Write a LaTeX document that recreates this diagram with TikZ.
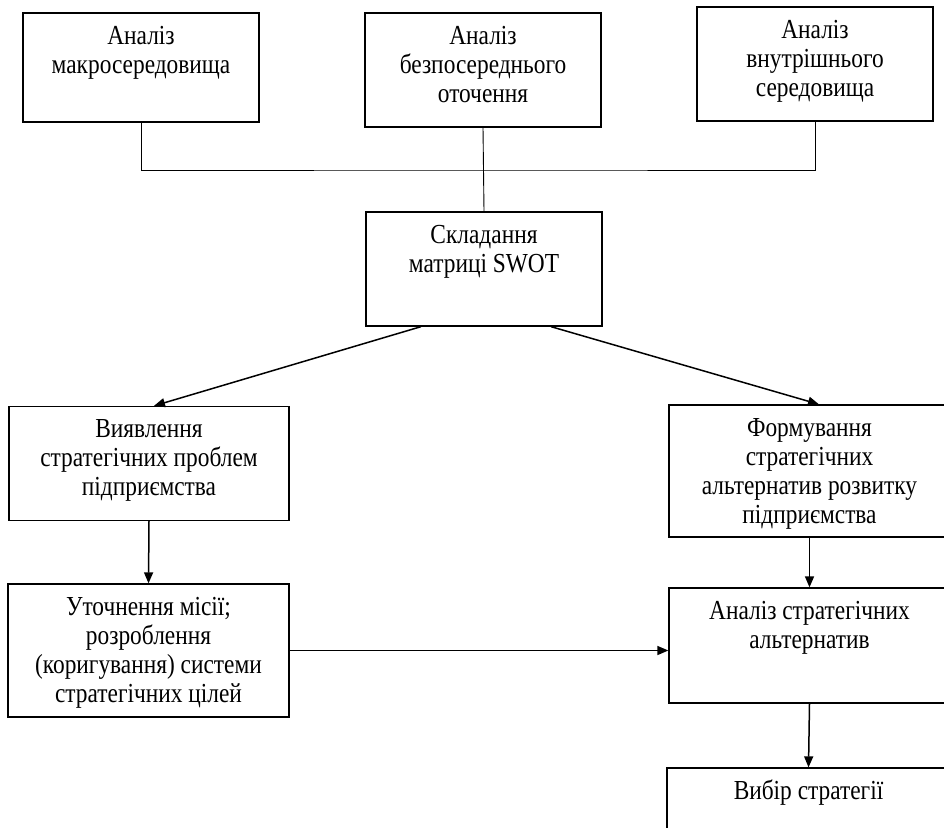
\documentclass[tikz,border=0pt]{standalone}
\usepackage{fontspec}
\setmainfont{Liberation Serif}[FakeStretch=0.85]
\usetikzlibrary{arrows.meta,calc}
\tikzset{>={Triangle[length=11pt,width=9pt]}}
\tikzset{blok/.style={draw,line width=1.3pt,inner sep=0pt,font=\fontsize{27.5pt}{29pt}\selectfont},
  shyna/.style={line width=0.9pt},
  strilka/.style={->,line width=1.5pt}}
% text at the top of a box: {height}{width}{text}
\newcommand{\blokTxt}[3]{\parbox[c][#1][t]{#2}{\centering\vspace*{11pt}\strut #3\par}}

\begin{document}
\begin{tikzpicture}[x=1pt,y=-1pt]
\useasboundingbox (0,0) rectangle (944,827);
\clip (0,0) rectangle (944,827);
\node[blok] (makro) at (141,67.5) {\blokTxt{109pt}{236pt}{Аналіз\\макросередовища}};
\node[blok] (bezpos) at (483,70) {\blokTxt{114pt}{236pt}{Аналіз\\безпосереднього\\оточення}};
\node[blok] (vnutr) at (815,64) {\blokTxt{114pt}{236pt}{Аналіз\\внутрішнього\\середовища}};
\node[blok] (swot) at (484,269) {\blokTxt{114pt}{236pt}{Складання\\матриці SWOT}};
\node[blok] (vyavl) at (149,463.5) {\blokTxt{114pt}{280pt}{Виявлення\\стратегічних проблем\\підприємства}};
\node[blok] (formuv) at (809.5,471) {\blokTxt{132pt}{281pt}{Формування\\стратегічних\\альтернатив розвитку\\підприємства}};
\node[blok] (utochn) at (148.5,650.5) {\blokTxt{133pt}{281pt}{Уточнення місії;\\розроблення\\(коригування) системи\\стратегічних цілей}};
\node[blok] (analiz) at (809.5,645.5) {\blokTxt{115pt}{281pt}{Аналіз стратегічних\\альтернатив}};
\node[blok] (vybir) at (808.5,825.5) {\blokTxt{115pt}{283pt}{Вибір стратегії}};

% verkhnia shyna
\coordinate (vuzol) at (483,170);
\draw[shyna] (makro.south) |- (vuzol) -| (vnutr.south);
\draw[shyna] (bezpos.south) -- (swot.north);

% strilky
\coordinate (swotL) at ($(swot.south)+(-63,0)$);
\coordinate (swotR) at ($(swot.south)+(67,0)$);
\draw[strilka] (swotL) -- ($(vyavl.north)+(5,0)$);
\draw[strilka] (swotR) -- ($(formuv.north)+(9.5,0)$);
\draw[strilka] (vyavl.south) -- (utochn.north);
\draw[strilka] (formuv.south) -- (analiz.north);
\draw[strilka] (utochn.east) -- (utochn.east -| analiz.west);
\draw[strilka] (analiz.south) -- (vybir.north);
\end{tikzpicture}
\end{document}
